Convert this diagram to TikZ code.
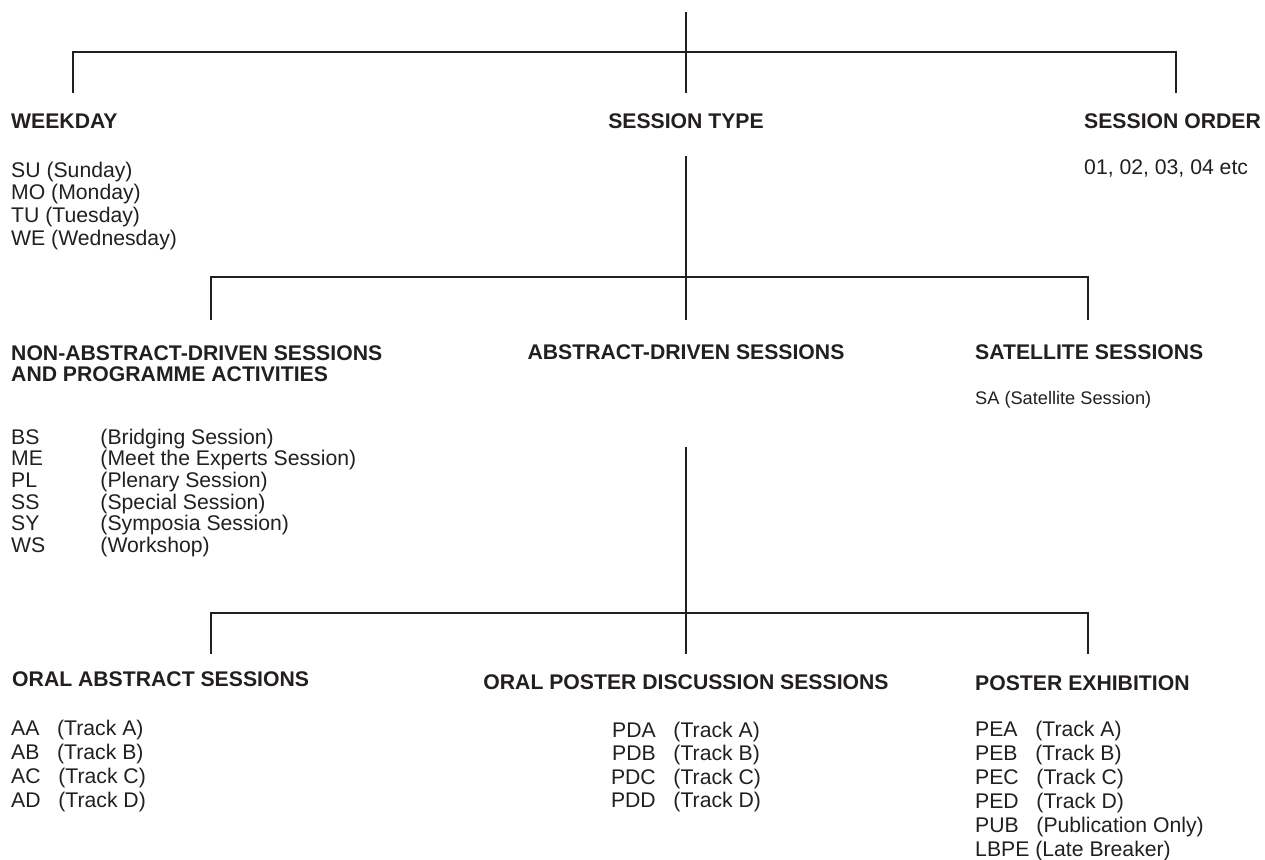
\documentclass[tikz,border=0pt]{standalone}
\usepackage{fontspec}
\setmainfont{Liberation Sans}
\definecolor{ink}{HTML}{231F20}
\begin{document}
\begin{tikzpicture}[x=1pt,y=-1pt,
  hd/.style={font=\fontsize{21.2}{22.8}\selectfont\bfseries, inner sep=0pt, text=ink},
  tx/.style={font=\fontsize{21.2}{22.8}\selectfont, inner sep=0pt, text=ink},
  link/.style={draw=ink, line width=2.2pt}]
\useasboundingbox (0,0) rectangle (1265,859);

% ---- level 1 ----
\node[hd, anchor=base west] (weekday) at (11,128.5) {WEEKDAY};
\node[hd, anchor=base] (stype) at (686,128.5) {SESSION TYPE};
\node[hd, anchor=base west] (sorder) at (1084,128.5) {SESSION ORDER};
\node[tx, anchor=base west] (wdlist) at (11,177) {\begin{tabular}[t]{@{}l@{}}SU (Sunday)\\MO (Monday)\\TU (Tuesday)\\WE (Wednesday)\end{tabular}};
\node[tx, anchor=base west] (solist) at (1084,174.5) {01, 02, 03, 04 etc};

\coordinate (root) at (686,12);
\coordinate (j1l) at (73,52);
\coordinate (j1r) at (1176,52);
\coordinate (d1l) at (73,93);
\coordinate (d1c) at (686,93);
\coordinate (d1r) at (1176,93);
\draw[link] (d1l) -- (j1l) -- (j1r) -- (d1r);
\draw[link] (root) -- (d1c);

% ---- level 2 ----
\coordinate (s1) at (686,156);
\coordinate (j2l) at (211,277);
\coordinate (j2r) at (1088,277);
\coordinate (d2l) at (211,320);
\coordinate (d2c) at (686,320);
\coordinate (d2r) at (1088,320);
\draw[link] (d2l) -- (j2l) -- (j2r) -- (d2r);
\draw[link] (s1) -- (d2c);

\node[hd, anchor=base west] (nonabs) at (11,360) {\fontsize{21.2}{21.7}\selectfont\begin{tabular}[t]{@{}l@{}}NON-ABSTRACT-DRIVEN SESSIONS\\AND PROGRAMME ACTIVITIES\end{tabular}};
\node[hd, anchor=base] (abs) at (686,359) {ABSTRACT-DRIVEN SESSIONS};
\node[hd, anchor=base west] (sat) at (975,359.5) {SATELLITE SESSIONS};
\node[tx, font=\fontsize{18.2}{20}\selectfont, anchor=base west] (salist) at (975,404.5) {SA (Satellite Session)};
\node[tx, anchor=base west] (nalist) at (11,444.3) {\fontsize{21.2}{20.8}\selectfont\begin{tabular}[t]{@{}p{89.3pt}@{}l@{}}
BS&(Bridging Session)\\
ME&(Meet the Experts Session)\\
PL&(Plenary Session)\\
SS&(Special Session)\\
SY&(Symposia Session)\\
WS&(Workshop)\end{tabular}};

% ---- level 3 ----
\coordinate (s2) at (686,447);
\coordinate (j3l) at (211,613);
\coordinate (j3r) at (1088,613);
\coordinate (d3l) at (211,654);
\coordinate (d3c) at (686,654);
\coordinate (d3r) at (1088,654);
\draw[link] (d3l) -- (j3l) -- (j3r) -- (d3r);
\draw[link] (s2) -- (d3c);

\node[hd, anchor=base west] (oral) at (12,686.5) {ORAL ABSTRACT SESSIONS};
\node[hd, anchor=base] (opd) at (686,689) {ORAL POSTER DISCUSSION SESSIONS};
\node[hd, anchor=base west] (pex) at (975,690) {POSTER EXHIBITION};

\node[tx, anchor=base west] (aalist) at (11,735) {\fontsize{21.2}{24}\selectfont\begin{tabular}[t]{@{}l@{}}
AA~~~(Track A)\\AB~~~(Track B)\\AC~~~(Track C)\\AD~~~(Track D)\end{tabular}};
\node[tx, anchor=base] (pdlist) at (686,737) {\fontsize{21.2}{23.5}\selectfont\begin{tabular}[t]{@{}c@{}}
PDA~~~(Track A)\\PDB~~~(Track B)\\PDC~~~(Track C)\\PDD~~~(Track D)\end{tabular}};
\node[tx, anchor=base west] (pelist) at (975,736.7) {\fontsize{21.2}{24}\selectfont\begin{tabular}[t]{@{}l@{}}
PEA~~~(Track A)\\PEB~~~(Track B)\\PEC~~~(Track C)\\PED~~~(Track D)\\PUB~~~(Publication Only)\\LBPE (Late Breaker)\end{tabular}};
\end{tikzpicture}
\end{document}
